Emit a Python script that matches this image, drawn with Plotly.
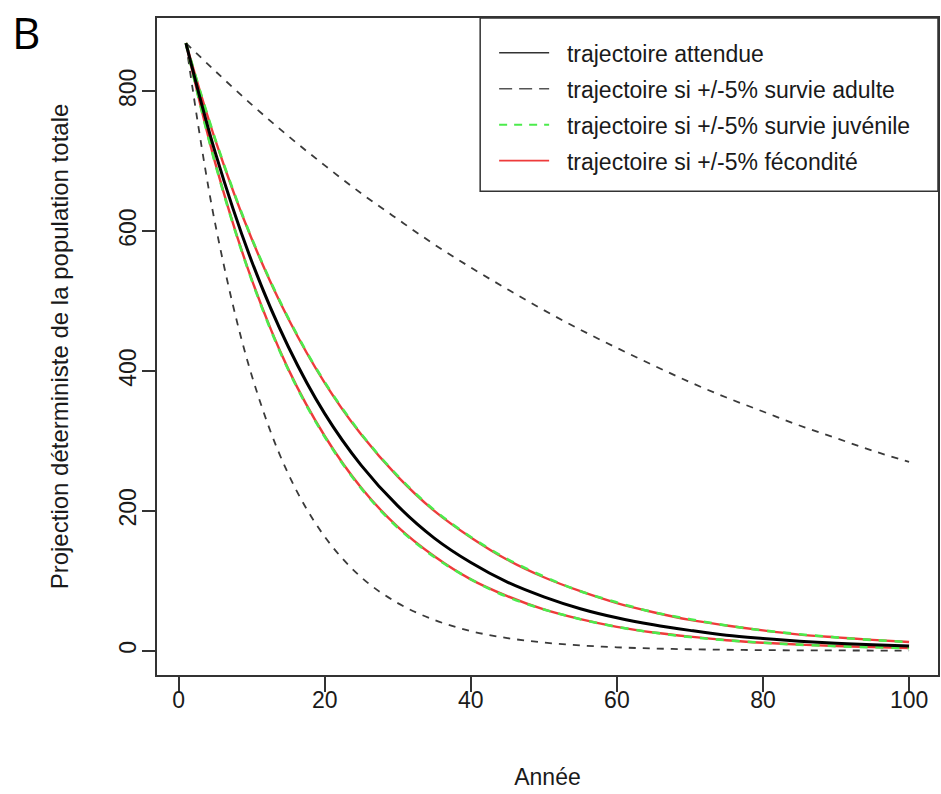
import plotly.graph_objects as go

# ---- data ----
annees = [1, 5, 10, 15, 20, 25, 30, 35, 40, 45, 50, 55, 60, 65, 70, 75, 80, 85, 90, 95, 100]

attendue = [869, 713, 557, 435, 339, 265, 207, 161, 126, 98, 77, 60, 47, 37, 29, 22, 17.4, 13.6, 10.6, 8.3, 6.5]

adulte_haut = [869, 829, 781, 736, 694, 654, 617, 581, 548, 517, 487, 459, 433, 408, 384, 362, 342, 322, 304, 286, 270]
adulte_bas = [869, 611, 394, 253, 163, 105, 68, 44, 28, 18, 11.6, 7.5, 4.8, 3.1, 2.0, 1.3, 0.8, 0.5, 0.35, 0.2, 0.15]

juvenile_haut = [869, 732, 590, 476, 384, 310, 250, 201, 162.5, 131, 106, 85, 69, 55, 45, 36, 29, 23.5, 19, 15.3, 12.3]
juvenile_bas = [869, 697, 530, 402, 306, 232, 176, 134, 102, 77, 59, 45, 34, 26, 19.5, 14.9, 11.3, 8.6, 6.5, 4.9, 3.8]

fecondite_haut = [869, 731, 589, 475, 383, 309, 249, 200, 162, 130, 105, 85, 68, 55, 44, 36, 29, 23, 19, 15.5, 12.5]
fecondite_bas = [869, 698, 531, 403, 307, 233, 177, 135, 102, 78, 59, 45, 34, 26, 20, 15, 11.4, 8.7, 6.6, 5.0, 3.9]

x_ticks = [0, 20, 40, 60, 80, 100]
y_ticks = [0, 200, 400, 600, 800]

noms = ["trajectoire attendue",
        "trajectoire si +/-5% survie adulte",
        "trajectoire si +/-5% survie juvénile",
        "trajectoire si +/-5% fécondité"]

FONT = "Liberation Sans, Arial, sans-serif"
GREEN = "#4CEB4C"
RED = "#EE3B3B"
GREY = "#3A3A3A"
TXT = "#1a1a1a"

fig = go.Figure()

# adult survival (dashed grey)
for ys in [adulte_haut, adulte_bas]:
    fig.add_trace(go.Scatter(
        x=annees, y=ys, mode="lines", line=dict(color=GREY, width=1.8, dash="7px,7px", shape="spline"),
        showlegend=False, hoverinfo="x+y"))

# fecundity (red solid, underneath)
for ys in [fecondite_haut, fecondite_bas]:
    fig.add_trace(go.Scatter(
        x=annees, y=ys, mode="lines", line=dict(color=RED, width=2.4, shape="spline"),
        showlegend=False, hoverinfo="x+y"))

# juvenile survival (green dashed, on top)
for ys in [juvenile_haut, juvenile_bas]:
    fig.add_trace(go.Scatter(
        x=annees, y=ys, mode="lines", line=dict(color=GREEN, width=2.6, dash="8px,8px", shape="spline"),
        showlegend=False, hoverinfo="x+y"))

# expected trajectory (black solid)
fig.add_trace(go.Scatter(
    x=annees, y=attendue, mode="lines", line=dict(color="black", width=3, shape="spline"),
    showlegend=False, hoverinfo="x+y"))

# legend entries (thin sample lines, as in base R legend)
leg_styles = [dict(color="#333333", width=1.5),
              dict(color="#555555", width=1.5, dash="13px,7px"),
              dict(color=GREEN, width=2, dash="8px,7px"),
              dict(color=RED, width=1.8)]
for i, (nm, st) in enumerate(zip(noms, leg_styles)):
    fig.add_trace(go.Scatter(x=[None], y=[None], mode="lines", line=st,
                             name="\u00a0\u00a0" + nm, legendgroup=f"g{i}", legendrank=i + 1))

# legend box as in base R
fig.add_shape(type="rect", xref="paper", yref="paper",
              x0=(481 - 157) / 783, x1=1, y0=(675.4 - 191) / 657.8, y1=1,
              line=dict(color="#333333", width=1.5), fillcolor="white", layer="below")

fig.add_annotation(text="B", xref="paper", yref="paper", x=(10 - 157) / 783, y=(675.4 - 32) / 657.8,
                   xanchor="left", yanchor="middle", showarrow=False,
                   font=dict(family="Open Sans, DejaVu Sans, sans-serif", size=44, color="black"))

fig.update_layout(
    width=941, height=794,
    margin=dict(l=157, r=1, t=18, b=119),
    paper_bgcolor="white", plot_bgcolor="white",
    font=dict(family=FONT, size=23, color=TXT),
    showlegend=True,
    legend=dict(x=(495 - 157) / 783, xanchor="left", y=(675.4 - 31) / 657.8, yanchor="top",
                bgcolor="rgba(0,0,0,0)", borderwidth=0, tracegroupgap=3,
                font=dict(family=FONT, size=23, color=TXT), itemwidth=50),
    xaxis=dict(range=[-2.96, 103.96], tickvals=x_ticks, ticktext=[str(v) for v in x_ticks],
               showgrid=False, zeroline=False, showline=True, mirror=True, linecolor="#333333", linewidth=1.5,
               ticks="outside", ticklen=15, tickwidth=1.5, tickcolor="#333333",
               ticklabelstandoff=-11, tickfont=dict(size=23),
               title=dict(text="Année", standoff=57, font=dict(size=23))),
    yaxis=dict(range=[-34.8, 904.8], tickvals=y_ticks, ticktext=[str(v) for v in y_ticks], tickangle=-90,
               showgrid=False, zeroline=False, showline=True, mirror=True, linecolor="#333333", linewidth=1.5,
               ticks="outside", ticklen=13, tickwidth=1.5, tickcolor="#333333",
               ticklabelstandoff=-3, tickfont=dict(size=23),
               title=dict(text="Projection déterministe de la population totale", standoff=40,
                          font=dict(size=24))),
)

fig.write_html("out.html", post_script="document.body.style.margin='0';",
               config={"displayModeBar": False})
